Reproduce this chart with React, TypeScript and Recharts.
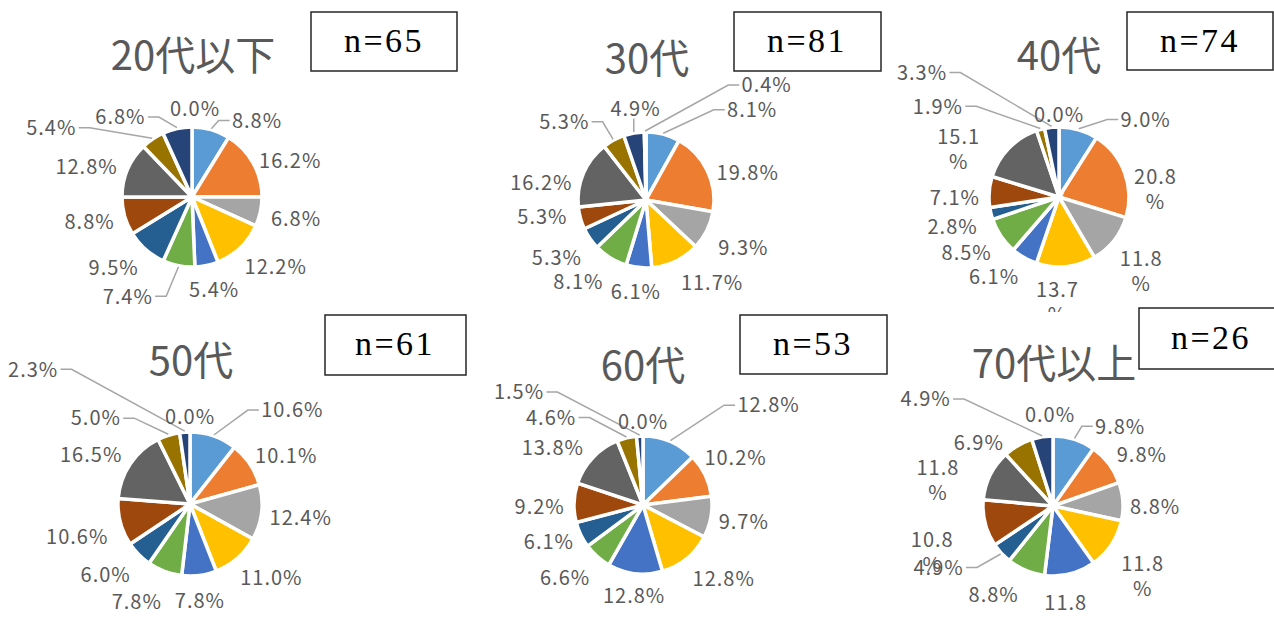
import React from 'react';
import { PieChart, Pie, Cell } from 'recharts';

// ---------- data ----------
const categories = ['選択肢1', '選択肢2', '選択肢3', '選択肢4', '選択肢5', '選択肢6', '選択肢7', '選択肢8', '選択肢9', '選択肢10', '選択肢11', '選択肢12'];
const ageGroups = ['20代以下', '30代', '40代', '50代', '60代', '70代以上'];
const sampleSizes = [65, 81, 74, 61, 53, 26];
const share20 = [8.8, 16.2, 6.8, 12.2, 5.4, 7.4, 9.5, 8.8, 12.8, 5.4, 6.8, 0.0];
const share30 = [8.1, 19.8, 9.3, 11.7, 6.1, 8.1, 5.3, 5.3, 16.2, 5.3, 4.9, 0.4];
const share40 = [9.0, 20.8, 11.8, 13.7, 6.1, 8.5, 2.8, 7.1, 15.1, 1.9, 3.3, 0.0];
const share50 = [10.6, 10.1, 12.4, 11.0, 7.8, 7.8, 6.0, 10.6, 16.5, 5.0, 2.3, 0.0];
const share60 = [12.8, 10.2, 9.7, 12.8, 12.8, 6.6, 6.1, 9.2, 13.8, 4.6, 1.5, 0.0];
const share70 = [9.8, 9.8, 8.8, 11.8, 11.8, 8.8, 4.9, 10.8, 11.8, 6.9, 4.9, 0.0];
const shares = [share20, share30, share40, share50, share60, share70];

// ---------- styles / layout ----------
const COLORS = ['#5B9BD5', '#ED7D31', '#A5A5A5', '#FFC000', '#4472C4', '#70AD47', '#255E91', '#9E480E', '#636363', '#997300', '#264478', '#43682B'];
const JP_FONT = '"Noto Sans CJK JP", "Noto Sans", sans-serif';
const TEXT_GRAY = '#595959';
const LINE_GRAY = '#A6A6A6';

type Layout = {
  row: number;
  cx: number;
  cy: number;
  r: number;
  titleX: number;
  titleY: number;
  box: { x: number; y: number; w: number; h: number; tx: number; ty: number };
  wrap: boolean;
  nudge: number[][];
  leaders: number[];
};

const layouts: Layout[] = [
  {
    row: 0, cx: 192, cy: 197, r: 70, titleX: 193, titleY: 70,
    box: { x: 311, y: 12, w: 146, h: 59, tx: 384, ty: 52 }, wrap: false,
    nudge: [[36, 11], [0, 8], [0, 3], [6, 4], [0, 4], [-44, 10], [-8, 2], [0, 0], [-2, 5], [-81, 6], [-49, 9], [3, 3]],
    leaders: [0, 5, 9, 10],
  },
  {
    row: 0, cx: 646, cy: 200, r: 68, titleX: 647, titleY: 73,
    box: { x: 734, y: 12, w: 147, h: 59, tx: 807, ty: 52 }, wrap: false,
    nudge: [[80, -4], [2, 11], [4, 8], [18, 3], [1, 3], [-13, 6], [-3, 7], [-3, -7], [-3, 17], [-32, 0], [8, -4], [122, -26]],
    leaders: [0, 9, 10, 11],
  },
  {
    row: 0, cx: 1059, cy: 197, r: 70, titleX: 1059, titleY: 70,
    box: { x: 1127, y: 12, w: 146, h: 58, tx: 1200, ty: 52 }, wrap: true,
    nudge: [[57, 10], [-2, 28], [0, 10], [-12, 2], [-12, 1], [-4, 5], [-3, 8], [2, 7], [-25, 25], [-93, -3], [-126, -34], [0, 9]],
    leaders: [0, 9, 10],
  },
  {
    row: 1, cx: 190, cy: 504, r: 72, titleX: 191, titleY: 375,
    box: { x: 325, y: 315, w: 141, h: 60, tx: 395, ty: 355 }, wrap: false,
    nudge: [[65, -6], [1, 3], [-3, 3], [6, 4], [-4, 4], [-15, 11], [-7, 6], [-2, 9], [-4, 3], [-62, 3], [-149, -42], [0, 6]],
    leaders: [0, 9, 10],
  },
  {
    row: 1, cx: 643, cy: 505, r: 69, titleX: 643, titleY: 380,
    box: { x: 740, y: 315, w: 147, h: 59, tx: 813, ty: 355 }, wrap: false,
    nudge: [[82, -17], [-8, -8], [-3, 1], [10, 4], [4, 1], [-8, 5], [1, -2], [2, 5], [-9, 4], [-67, 0], [-119, -23], [0, 7]],
    leaders: [0, 9, 10],
  },
  {
    row: 1, cx: 1053, cy: 506, r: 70, titleX: 1054, titleY: 378,
    box: { x: 1139, y: 308, w: 144, h: 61, tx: 1211, ty: 349 }, wrap: true,
    nudge: [[35, 7], [4, 4], [-4, 7], [2, 13], [-13, 8], [-18, 5], [-36, 0], [-19, 21], [-21, 20], [-21, 15], [-111, -17], [-3, 0]],
    leaders: [0, 6, 10],
  },
];

const ROW_TOP = [0, 312];
const ROW_H = [312, 307];

const makeLabel = (lay: Layout) => (props: any) => {
  const cx = Number(props.cx);
  const cy = Number(props.cy);
  const outerRadius = Number(props.outerRadius);
  const midAngle = Number(props.midAngle);
  const index = Number(props.index);
  const value = Number(props.value);
  const rad = Math.PI / 180;
  const sx = Math.cos(midAngle * rad);
  const sy = Math.sin(midAngle * rad);
  const R = outerRadius + 12;
  const px = cx + R * sx;
  const py = cy - R * sy;
  const txt = value.toFixed(1);
  const wrapped = lay.wrap && value >= 10;
  const w = wrapped ? 46 : (txt.length + 1) * 12.2;
  const h = wrapped ? 44 : 18;
  const nd = lay.nudge[index] || [0, 0];
  const lx = px + (sx * w) / 2 + nd[0];
  const ly = py - (sy * h) / 2 + nd[1];

  let line: React.ReactNode = null;
  if (lay.leaders.includes(index)) {
    const ax = cx + (outerRadius + 1) * sx;
    const ay = cy - (outerRadius + 1) * sy;
    let pts = '';
    if (Math.abs(lx - ax) < w / 2) {
      pts = `${ax},${ly + h / 2 + 1} ${ax},${ay}`;
    } else if (lx > ax) {
      const ex = lx - w / 2 - 3;
      pts = `${ax},${ay} ${ex - 11},${ly} ${ex},${ly}`;
    } else {
      const ex = lx + w / 2 + 3;
      pts = `${ax},${ay} ${ex + 11},${ly} ${ex},${ly}`;
    }
    line = <polyline points={pts} fill="none" stroke={LINE_GRAY} strokeWidth={1.5} />;
  }

  const tprops = {
    textAnchor: 'middle' as const,
    fontFamily: JP_FONT,
    fontSize: 20,
    letterSpacing: 1,
    fill: TEXT_GRAY,
  };
  return (
    <g key={`lbl-${index}`}>
      {line}
      {wrapped ? (
        <>
          <text x={lx} y={ly - 12.5 + 7.3} {...tprops}>{txt}</text>
          <text x={lx} y={ly + 12.5 + 7.3} {...tprops}>%</text>
        </>
      ) : (
        <text x={lx} y={ly + 7.3} {...tprops}>{txt + '%'}</text>
      )}
    </g>
  );
};

const buildRows = (vals: number[]) => categories.map((name, i) => ({ name, value: vals[i] }));

const RowChart = ({ row }: { row: number }) => {
  const idxs = layouts.map((l, i) => (l.row === row ? i : -1)).filter((i) => i >= 0);
  return (
    <div style={{ position: 'absolute', left: 0, top: ROW_TOP[row], width: 1274, height: ROW_H[row], overflow: 'hidden' }}>
      <PieChart width={1274} height={ROW_H[row]} margin={{ top: 0, right: 0, bottom: 0, left: 0 }}>
        {idxs.map((i) => {
          const lay = layouts[i];
          return (
            <Pie
              key={ageGroups[i]}
              data={buildRows(shares[i])}
              dataKey="value"
              nameKey="name"
              cx={lay.cx}
              cy={lay.cy - ROW_TOP[row]}
              outerRadius={lay.r}
              startAngle={90}
              endAngle={-270}
              stroke="#FFFFFF"
              strokeWidth={3.5}
              isAnimationActive={false}
              labelLine={false}
              label={makeLabel(lay)}
            >
              {categories.map((c, k) => (
                <Cell key={c} fill={COLORS[k]} stroke="#FFFFFF" strokeWidth={3.5} />
              ))}
            </Pie>
          );
        })}
      </PieChart>
    </div>
  );
};

export default function App() {
  return (
    <div style={{ position: 'fixed', left: 0, top: 0, width: 1274, height: 619, background: '#fff', overflow: 'hidden' }}>
      <RowChart row={0} />
      <RowChart row={1} />
      <svg width={1274} height={619} style={{ position: 'absolute', left: 0, top: 0, pointerEvents: 'none' }}>
        {layouts.map((lay, i) => (
          <g key={ageGroups[i]}>
            <text x={lay.titleX} y={lay.titleY} textAnchor="middle" fontFamily={JP_FONT} fontSize={40} fill={TEXT_GRAY}>
              {ageGroups[i]}
            </text>
            <rect x={lay.box.x} y={lay.box.y} width={lay.box.w} height={lay.box.h} fill="#FFFFFF" stroke="#262626" strokeWidth={1.5} />
            <text x={lay.box.tx} y={lay.box.ty} textAnchor="middle" fontFamily='"Liberation Serif", "DejaVu Serif", serif' fontSize={34} letterSpacing={2.5} fill="#000">
              {`n=${sampleSizes[i]}`}
            </text>
          </g>
        ))}
      </svg>
    </div>
  );
}
